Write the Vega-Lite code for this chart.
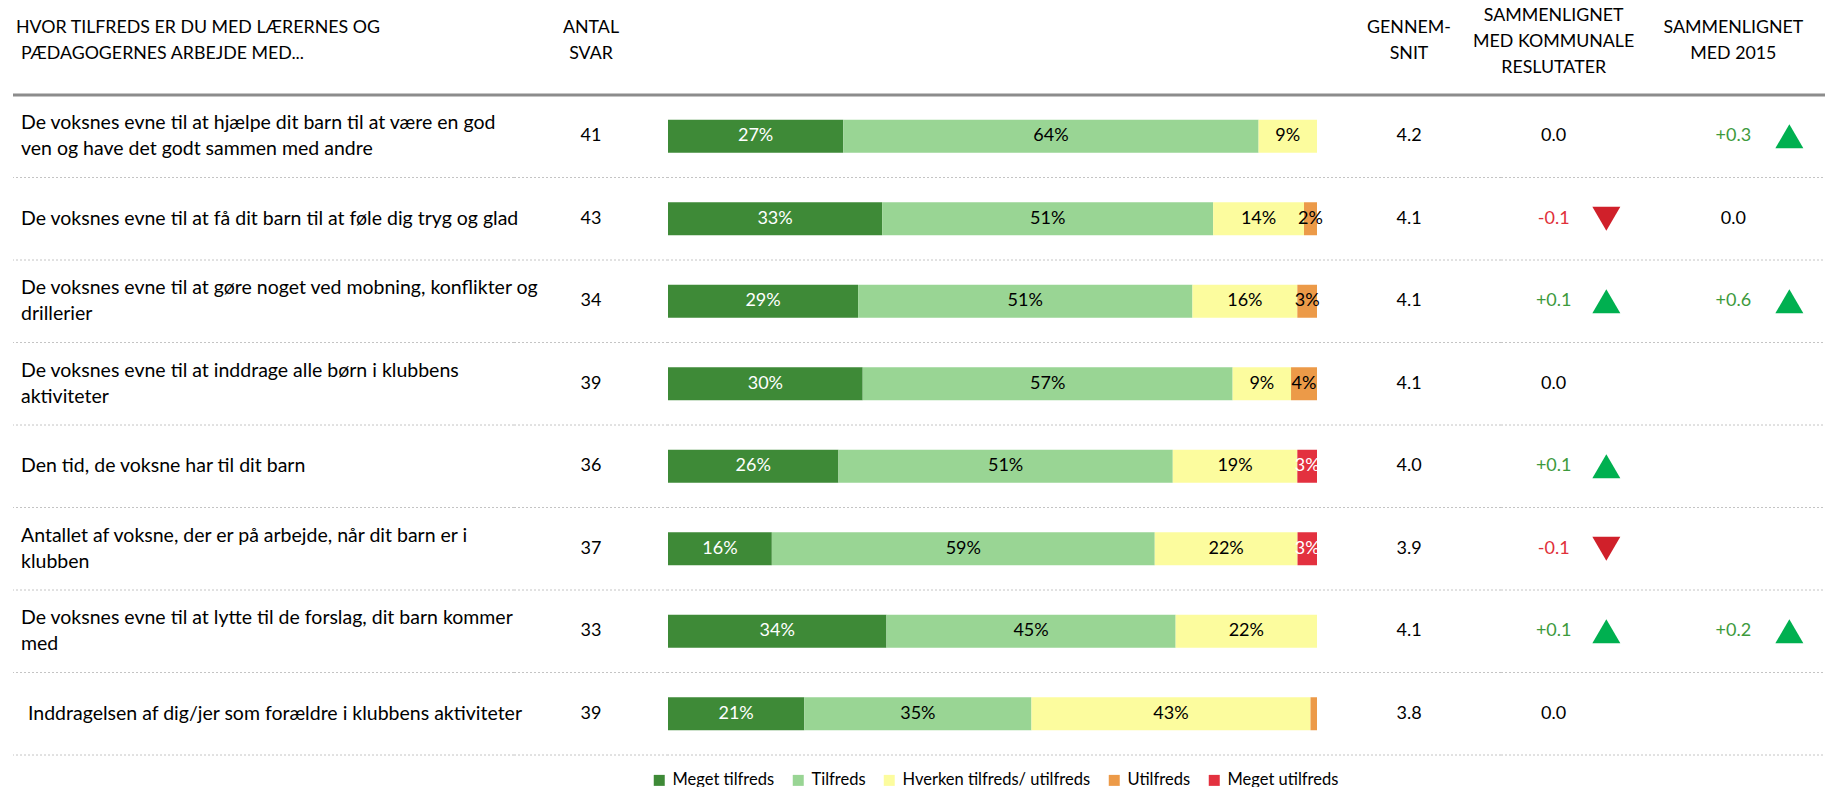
{
  "$schema": "https://vega.github.io/schema/vega-lite/v6.json",
  "padding": {"left": 11, "top": 0, "right": 0, "bottom": 0},
  "background": "white",
  "config": {"view": {"stroke": null}, "concat": {"spacing": 0}, "font": "Lato", "text": {"font": "Lato", "color": "#000000"},
             "locale": {"number": {"decimal": ".", "thousands": ",", "grouping": [3], "currency": ["", ""], "minus": "-"}}},
  "datasets": {
    "rows": [
      {"id": 1, "q": "De voksnes evne til at hjælpe dit barn til at være en god\nven og have det godt sammen med andre", "n": 41, "mean": 4.2, "kom": 0.0, "y15": 0.3},
      {"id": 2, "q": "De voksnes evne til at få dit barn til at føle dig tryg og glad", "n": 43, "mean": 4.1, "kom": -0.1, "y15": 0.0},
      {"id": 3, "q": "De voksnes evne til at gøre noget ved mobning, konflikter og\ndrillerier", "n": 34, "mean": 4.1, "kom": 0.1, "y15": 0.6},
      {"id": 4, "q": "De voksnes evne til at inddrage alle børn i klubbens\naktiviteter", "n": 39, "mean": 4.1, "kom": 0.0, "y15": null},
      {"id": 5, "q": "Den tid, de voksne har til dit barn", "n": 36, "mean": 4.0, "kom": 0.1, "y15": null},
      {"id": 6, "q": "Antallet af voksne, der er på arbejde, når dit barn er i\nklubben", "n": 37, "mean": 3.9, "kom": -0.1, "y15": null},
      {"id": 7, "q": "De voksnes evne til at lytte til de forslag, dit barn kommer\nmed", "n": 33, "mean": 4.1, "kom": 0.1, "y15": 0.2},
      {"id": 8, "q": "Inddragelsen af dig/jer som forældre i klubbens aktiviteter", "n": 39, "mean": 3.8, "kom": 0.0, "y15": null}
    ],
    "bars": [
      {"id": 1, "cat": "Meget tilfreds", "k": 1, "pct": 0.27},
      {"id": 1, "cat": "Tilfreds", "k": 2, "pct": 0.64},
      {"id": 1, "cat": "Hverken tilfreds/ utilfreds", "k": 3, "pct": 0.09},
      {"id": 2, "cat": "Meget tilfreds", "k": 1, "pct": 0.33},
      {"id": 2, "cat": "Tilfreds", "k": 2, "pct": 0.51},
      {"id": 2, "cat": "Hverken tilfreds/ utilfreds", "k": 3, "pct": 0.14},
      {"id": 2, "cat": "Utilfreds", "k": 4, "pct": 0.02},
      {"id": 3, "cat": "Meget tilfreds", "k": 1, "pct": 0.29},
      {"id": 3, "cat": "Tilfreds", "k": 2, "pct": 0.51},
      {"id": 3, "cat": "Hverken tilfreds/ utilfreds", "k": 3, "pct": 0.16},
      {"id": 3, "cat": "Utilfreds", "k": 4, "pct": 0.03},
      {"id": 4, "cat": "Meget tilfreds", "k": 1, "pct": 0.30},
      {"id": 4, "cat": "Tilfreds", "k": 2, "pct": 0.57},
      {"id": 4, "cat": "Hverken tilfreds/ utilfreds", "k": 3, "pct": 0.09},
      {"id": 4, "cat": "Utilfreds", "k": 4, "pct": 0.04},
      {"id": 5, "cat": "Meget tilfreds", "k": 1, "pct": 0.26},
      {"id": 5, "cat": "Tilfreds", "k": 2, "pct": 0.51},
      {"id": 5, "cat": "Hverken tilfreds/ utilfreds", "k": 3, "pct": 0.19},
      {"id": 5, "cat": "Meget utilfreds", "k": 5, "pct": 0.03},
      {"id": 6, "cat": "Meget tilfreds", "k": 1, "pct": 0.16},
      {"id": 6, "cat": "Tilfreds", "k": 2, "pct": 0.59},
      {"id": 6, "cat": "Hverken tilfreds/ utilfreds", "k": 3, "pct": 0.22},
      {"id": 6, "cat": "Meget utilfreds", "k": 5, "pct": 0.03},
      {"id": 7, "cat": "Meget tilfreds", "k": 1, "pct": 0.34},
      {"id": 7, "cat": "Tilfreds", "k": 2, "pct": 0.45},
      {"id": 7, "cat": "Hverken tilfreds/ utilfreds", "k": 3, "pct": 0.22},
      {"id": 8, "cat": "Meget tilfreds", "k": 1, "pct": 0.21},
      {"id": 8, "cat": "Tilfreds", "k": 2, "pct": 0.35},
      {"id": 8, "cat": "Hverken tilfreds/ utilfreds", "k": 3, "pct": 0.43},
      {"id": 8, "cat": "Utilfreds", "k": 4, "pct": 0.01}
    ]
  },
  "spacing": 0,
  "resolve": {"scale": {"x": "independent", "y": "independent"}},
  "vconcat": [
    {
      "spacing": 0,
      "bounds": "flush",
      "resolve": {"scale": {"x": "independent", "y": "independent"}},
      "hconcat": [
        {"width": 501, "height": 93, "data": {"values": [{"t": "HVOR TILFREDS ER DU MED LÆRERNES OG", "l": 1}, {"t": "PÆDAGOGERNES ARBEJDE MED...", "l": 2}]},
         "layer": [
           {"transform": [{"filter": "datum.l == 1"}],
            "mark": {"type": "text", "align": "left", "baseline": "middle", "dx": 3, "dy": -18.5, "fontSize": 17.8},
            "encoding": {"text": {"field": "t", "type": "nominal"}, "x": {"datum": 0, "type": "quantitative", "scale": {"domain": [0, 1]}, "axis": null}}},
           {"transform": [{"filter": "datum.l == 2"}],
            "mark": {"type": "text", "align": "left", "baseline": "middle", "dx": 8, "dy": 7, "fontSize": 17.8},
            "encoding": {"text": {"field": "t", "type": "nominal"}, "x": {"datum": 0, "type": "quantitative", "scale": {"domain": [0, 1]}, "axis": null}}}
         ]},
        {"width": 154, "height": 93, "data": {"values": [{"t": "ANTAL", "l": 1}, {"t": "SVAR", "l": 2}]},
         "layer": [
           {"transform": [{"filter": "datum.l == 1"}], "mark": {"type": "text", "align": "center", "baseline": "middle", "dy": -18.5, "fontSize": 17.8},
            "encoding": {"text": {"field": "t", "type": "nominal"}}},
           {"transform": [{"filter": "datum.l == 2"}], "mark": {"type": "text", "align": "center", "baseline": "middle", "dy": 7, "fontSize": 17.8},
            "encoding": {"text": {"field": "t", "type": "nominal"}}}
         ]},
        {"width": 649, "height": 93, "data": {"values": [{"t": ""}]},
         "mark": {"type": "text"},
         "encoding": {"text": {"field": "t", "type": "nominal"}}},
        {"width": 184, "height": 93, "data": {"values": [{"t": "GENNEM-", "l": 1}, {"t": "SNIT", "l": 2}]},
         "layer": [
           {"transform": [{"filter": "datum.l == 1"}], "mark": {"type": "text", "align": "center", "baseline": "middle", "dy": -18.5, "fontSize": 17.8},
            "encoding": {"text": {"field": "t", "type": "nominal"}}},
           {"transform": [{"filter": "datum.l == 2"}], "mark": {"type": "text", "align": "center", "baseline": "middle", "dy": 7, "fontSize": 17.8},
            "encoding": {"text": {"field": "t", "type": "nominal"}}}
         ]},
        {"width": 158, "height": 93, "data": {"values": [{"t": "SAMMENLIGNET", "l": 1}, {"t": "MED KOMMUNALE", "l": 2}, {"t": "RESLUTATER", "l": 3}]},
         "layer": [
           {"transform": [{"filter": "datum.l == 1"}], "mark": {"type": "text", "align": "center", "baseline": "middle", "dy": -30.2, "fontSize": 17.8},
            "encoding": {"text": {"field": "t", "type": "nominal"},
                         "x": {"datum": "val", "type": "nominal", "scale": {"type": "point", "domain": ["val", "tri"], "padding": 1.1458, "align": 0.5}, "axis": null}}},
           {"transform": [{"filter": "datum.l == 2"}], "mark": {"type": "text", "align": "center", "baseline": "middle", "dy": -4.5, "fontSize": 17.8},
            "encoding": {"text": {"field": "t", "type": "nominal"},
                         "x": {"datum": "val", "type": "nominal", "scale": {"type": "point", "domain": ["val", "tri"], "padding": 1.1458, "align": 0.5}, "axis": null}}},
           {"transform": [{"filter": "datum.l == 3"}], "mark": {"type": "text", "align": "center", "baseline": "middle", "dy": 21, "fontSize": 17.8},
            "encoding": {"text": {"field": "t", "type": "nominal"},
                         "x": {"datum": "val", "type": "nominal", "scale": {"type": "point", "domain": ["val", "tri"], "padding": 1.1458, "align": 0.5}, "axis": null}}}
         ]},
        {"width": 168, "height": 93, "data": {"values": [{"t": "SAMMENLIGNET", "l": 1}, {"t": "MED 2015", "l": 2}]},
         "layer": [
           {"transform": [{"filter": "datum.l == 1"}], "mark": {"type": "text", "align": "center", "baseline": "middle", "dy": -18.5, "fontSize": 17.8},
            "encoding": {"text": {"field": "t", "type": "nominal"},
                         "x": {"datum": "val", "type": "nominal", "scale": {"type": "point", "domain": ["val", "tri"], "padding": 1.2143, "align": 0.6639}, "axis": null}}},
           {"transform": [{"filter": "datum.l == 2"}], "mark": {"type": "text", "align": "center", "baseline": "middle", "dy": 7, "fontSize": 17.8},
            "encoding": {"text": {"field": "t", "type": "nominal"},
                         "x": {"datum": "val", "type": "nominal", "scale": {"type": "point", "domain": ["val", "tri"], "padding": 1.2143, "align": 0.6639}, "axis": null}}}
         ]}
      ]
    },
    {
      "spacing": 0,
      "bounds": "flush",
      "resolve": {"scale": {"x": "independent", "y": "independent"}},
      "hconcat": [
        {"width": 501, "height": 660,
         "layer": [
           {"data": {"name": "rows"}, "mark": {"type": "rule", "color": "#c4c4c4", "strokeDash": [2, 2], "strokeWidth": 1},
            "encoding": {"y": {"field": "id", "type": "ordinal", "bandPosition": 1, "scale": {"type": "band", "domain": [1, 2, 3, 4, 5, 6, 7, 8], "paddingInner": 0, "paddingOuter": 0}, "axis": null}}},
           {"data": {"name": "rows"}, "transform": [{"filter": "datum.id == 1"}], "mark": {"type": "rule", "color": "#8c8c8c", "strokeWidth": 3},
            "encoding": {"y": {"field": "id", "type": "ordinal", "bandPosition": 0, "scale": {"type": "band", "domain": [1, 2, 3, 4, 5, 6, 7, 8], "paddingInner": 0, "paddingOuter": 0}, "axis": null}}},
           {"data": {"name": "rows"}, "transform": [{"filter": "indexof(datum.q, '\\n') < 0 && datum.id != 8"}], "mark": {"type": "text", "align": "left", "baseline": "middle", "dx": 8, "fontSize": 19.5},
            "encoding": {"y": {"field": "id", "type": "ordinal", "scale": {"type": "band", "domain": [1, 2, 3, 4, 5, 6, 7, 8], "paddingInner": 0, "paddingOuter": 0}, "axis": null},
                         "x": {"datum": 0, "type": "quantitative", "scale": {"domain": [0, 1]}, "axis": null},
                         "text": {"field": "q", "type": "nominal"}}},
           {"data": {"name": "rows"}, "transform": [{"filter": "indexof(datum.q, '\\n') >= 0"}], "mark": {"type": "text", "align": "left", "baseline": "middle", "lineBreak": "\n", "lineHeight": 26, "dx": 8, "dy": -13, "fontSize": 19.5},
            "encoding": {"y": {"field": "id", "type": "ordinal", "scale": {"type": "band", "domain": [1, 2, 3, 4, 5, 6, 7, 8], "paddingInner": 0, "paddingOuter": 0}, "axis": null},
                         "x": {"datum": 0, "type": "quantitative", "scale": {"domain": [0, 1]}, "axis": null},
                         "text": {"field": "q", "type": "nominal"}}},
           {"data": {"name": "rows"}, "transform": [{"filter": "datum.id == 8"}], "mark": {"type": "text", "align": "left", "baseline": "middle", "dx": 15, "fontSize": 19.5},
            "encoding": {"y": {"field": "id", "type": "ordinal", "scale": {"type": "band", "domain": [1, 2, 3, 4, 5, 6, 7, 8], "paddingInner": 0, "paddingOuter": 0}, "axis": null},
                         "x": {"datum": 0, "type": "quantitative", "scale": {"domain": [0, 1]}, "axis": null},
                         "text": {"field": "q", "type": "nominal"}}}
         ]},
        {"width": 154, "height": 660,
         "layer": [
           {"data": {"name": "rows"}, "mark": {"type": "rule", "color": "#c4c4c4", "strokeDash": [2, 2], "strokeWidth": 1},
            "encoding": {"y": {"field": "id", "type": "ordinal", "bandPosition": 1, "scale": {"type": "band", "domain": [1, 2, 3, 4, 5, 6, 7, 8], "paddingInner": 0, "paddingOuter": 0}, "axis": null}}},
           {"data": {"name": "rows"}, "transform": [{"filter": "datum.id == 1"}], "mark": {"type": "rule", "color": "#8c8c8c", "strokeWidth": 3},
            "encoding": {"y": {"field": "id", "type": "ordinal", "bandPosition": 0, "scale": {"type": "band", "domain": [1, 2, 3, 4, 5, 6, 7, 8], "paddingInner": 0, "paddingOuter": 0}, "axis": null}}},
           {"data": {"name": "rows"}, "mark": {"type": "text", "align": "center", "baseline": "middle", "fontSize": 18},
            "encoding": {"y": {"field": "id", "type": "ordinal", "scale": {"type": "band", "domain": [1, 2, 3, 4, 5, 6, 7, 8], "paddingInner": 0, "paddingOuter": 0}, "axis": null},
                         "text": {"field": "n", "type": "quantitative", "format": "d"}}}
         ]},
        {"width": 649, "height": 660,
         "layer": [
           {"data": {"name": "rows"}, "mark": {"type": "rule", "color": "#c4c4c4", "strokeDash": [2, 2], "strokeWidth": 1},
            "encoding": {"y": {"field": "id", "type": "ordinal", "bandPosition": 1, "scale": {"type": "band", "domain": [1, 2, 3, 4, 5, 6, 7, 8], "paddingInner": 0, "paddingOuter": 0}, "axis": null}}},
           {"data": {"name": "rows"}, "transform": [{"filter": "datum.id == 1"}], "mark": {"type": "rule", "color": "#8c8c8c", "strokeWidth": 3},
            "encoding": {"y": {"field": "id", "type": "ordinal", "bandPosition": 0, "scale": {"type": "band", "domain": [1, 2, 3, 4, 5, 6, 7, 8], "paddingInner": 0, "paddingOuter": 0}, "axis": null}}},
           {"data": {"name": "bars"}, "mark": {"type": "bar", "height": {"band": 0.4}},
            "encoding": {"y": {"field": "id", "type": "ordinal", "scale": {"type": "band", "domain": [1, 2, 3, 4, 5, 6, 7, 8], "paddingInner": 0, "paddingOuter": 0}, "axis": null},
                         "x": {"field": "pct", "type": "quantitative", "stack": "normalize", "axis": null},
                         "order": {"field": "k", "type": "quantitative"},
                         "color": {"field": "cat", "type": "nominal",
                                   "scale": {"domain": ["Meget tilfreds", "Tilfreds", "Hverken tilfreds/ utilfreds", "Utilfreds", "Meget utilfreds"],
                                             "range": ["#3e8a37", "#99d594", "#fcfc9e", "#ec9a48", "#e3313f"]},
                                   "legend": {"title": null, "orient": "none", "legendX": 638, "legendY": 772, "direction": "horizontal", "columns": 5,
                                              "symbolType": "square", "symbolSize": 121, "symbolStrokeWidth": 0, "labelFont": "Lato", "labelFontSize": 16.5,
                                              "labelColor": "#000000", "labelOffset": 5, "columnPadding": 15, "padding": 0, "labelLimit": 400}}}},
           {"data": {"name": "bars"}, "mark": {"type": "text", "align": "center", "baseline": "middle", "fontSize": 18},
            "encoding": {"y": {"field": "id", "type": "ordinal", "scale": {"type": "band", "domain": [1, 2, 3, 4, 5, 6, 7, 8], "paddingInner": 0, "paddingOuter": 0}, "axis": null},
                         "x": {"field": "pct", "type": "quantitative", "stack": "normalize", "bandPosition": 0.5, "axis": null},
                         "order": {"field": "k", "type": "quantitative"},
                         "detail": {"field": "cat", "type": "nominal"},
                         "text": {"field": "pct", "type": "quantitative", "format": ".0%", "condition": {"test": "datum.pct < 0.02", "value": ""}},
                         "color": {"condition": {"test": "datum.k == 1 || datum.k == 5", "value": "#ffffff"}, "value": "#000000"}}}
         ]},
        {"width": 184, "height": 660,
         "layer": [
           {"data": {"name": "rows"}, "mark": {"type": "rule", "color": "#c4c4c4", "strokeDash": [2, 2], "strokeWidth": 1},
            "encoding": {"y": {"field": "id", "type": "ordinal", "bandPosition": 1, "scale": {"type": "band", "domain": [1, 2, 3, 4, 5, 6, 7, 8], "paddingInner": 0, "paddingOuter": 0}, "axis": null}}},
           {"data": {"name": "rows"}, "transform": [{"filter": "datum.id == 1"}], "mark": {"type": "rule", "color": "#8c8c8c", "strokeWidth": 3},
            "encoding": {"y": {"field": "id", "type": "ordinal", "bandPosition": 0, "scale": {"type": "band", "domain": [1, 2, 3, 4, 5, 6, 7, 8], "paddingInner": 0, "paddingOuter": 0}, "axis": null}}},
           {"data": {"name": "rows"}, "mark": {"type": "text", "align": "center", "baseline": "middle", "fontSize": 18},
            "encoding": {"y": {"field": "id", "type": "ordinal", "scale": {"type": "band", "domain": [1, 2, 3, 4, 5, 6, 7, 8], "paddingInner": 0, "paddingOuter": 0}, "axis": null},
                         "text": {"field": "mean", "type": "quantitative", "format": ".1f"}}}
         ]},
        {"width": 158, "height": 660,
         "layer": [
           {"data": {"name": "rows"}, "mark": {"type": "rule", "color": "#c4c4c4", "strokeDash": [2, 2], "strokeWidth": 1},
            "encoding": {"y": {"field": "id", "type": "ordinal", "bandPosition": 1, "scale": {"type": "band", "domain": [1, 2, 3, 4, 5, 6, 7, 8], "paddingInner": 0, "paddingOuter": 0}, "axis": null}}},
           {"data": {"name": "rows"}, "transform": [{"filter": "datum.id == 1"}], "mark": {"type": "rule", "color": "#8c8c8c", "strokeWidth": 3},
            "encoding": {"y": {"field": "id", "type": "ordinal", "bandPosition": 0, "scale": {"type": "band", "domain": [1, 2, 3, 4, 5, 6, 7, 8], "paddingInner": 0, "paddingOuter": 0}, "axis": null}}},
           {"data": {"name": "rows"}, "transform": [{"filter": "datum.kom > 0"}], "mark": {"type": "text", "align": "center", "baseline": "middle", "fontSize": 18, "color": "#3d9a3d"},
            "encoding": {"y": {"field": "id", "type": "ordinal", "scale": {"type": "band", "domain": [1, 2, 3, 4, 5, 6, 7, 8], "paddingInner": 0, "paddingOuter": 0}, "axis": null},
                         "x": {"datum": "val", "type": "nominal", "scale": {"type": "point", "domain": ["val", "tri"], "padding": 1.1458, "align": 0.5}, "axis": null},
                         "text": {"field": "kom", "type": "quantitative", "format": "+.1f"}}},
           {"data": {"name": "rows"}, "transform": [{"filter": "datum.kom <= 0"}], "mark": {"type": "text", "align": "center", "baseline": "middle", "fontSize": 18},
            "encoding": {"y": {"field": "id", "type": "ordinal", "scale": {"type": "band", "domain": [1, 2, 3, 4, 5, 6, 7, 8], "paddingInner": 0, "paddingOuter": 0}, "axis": null},
                         "x": {"datum": "val", "type": "nominal", "scale": {"type": "point", "domain": ["val", "tri"], "padding": 1.1458, "align": 0.5}, "axis": null},
                         "text": {"field": "kom", "type": "quantitative", "format": ".1f"},
                         "color": {"condition": {"test": "datum.kom < 0", "value": "#e0303a"}, "value": "#000000"}}},
           {"data": {"name": "rows"}, "transform": [{"filter": "datum.kom > 0"}], "mark": {"type": "point", "shape": "triangle-up", "filled": true, "size": 784, "opacity": 1, "color": "#00b050"},
            "encoding": {"y": {"field": "id", "type": "ordinal", "scale": {"type": "band", "domain": [1, 2, 3, 4, 5, 6, 7, 8], "paddingInner": 0, "paddingOuter": 0}, "axis": null},
                         "x": {"datum": "tri", "type": "nominal", "scale": {"type": "point", "domain": ["val", "tri"], "padding": 1.1458, "align": 0.5}, "axis": null}}},
           {"data": {"name": "rows"}, "transform": [{"filter": "datum.kom < 0"}], "mark": {"type": "point", "shape": "triangle-down", "filled": true, "size": 784, "opacity": 1, "color": "#d0202a"},
            "encoding": {"y": {"field": "id", "type": "ordinal", "scale": {"type": "band", "domain": [1, 2, 3, 4, 5, 6, 7, 8], "paddingInner": 0, "paddingOuter": 0}, "axis": null},
                         "x": {"datum": "tri", "type": "nominal", "scale": {"type": "point", "domain": ["val", "tri"], "padding": 1.1458, "align": 0.5}, "axis": null}}}
         ]},
        {"width": 168, "height": 660,
         "layer": [
           {"data": {"name": "rows"}, "mark": {"type": "rule", "color": "#c4c4c4", "strokeDash": [2, 2], "strokeWidth": 1},
            "encoding": {"y": {"field": "id", "type": "ordinal", "bandPosition": 1, "scale": {"type": "band", "domain": [1, 2, 3, 4, 5, 6, 7, 8], "paddingInner": 0, "paddingOuter": 0}, "axis": null}}},
           {"data": {"name": "rows"}, "transform": [{"filter": "datum.id == 1"}], "mark": {"type": "rule", "color": "#8c8c8c", "strokeWidth": 3},
            "encoding": {"y": {"field": "id", "type": "ordinal", "bandPosition": 0, "scale": {"type": "band", "domain": [1, 2, 3, 4, 5, 6, 7, 8], "paddingInner": 0, "paddingOuter": 0}, "axis": null}}},
           {"data": {"name": "rows"}, "transform": [{"filter": "isValid(datum.y15) && datum.y15 > 0"}], "mark": {"type": "text", "align": "center", "baseline": "middle", "fontSize": 18, "color": "#3d9a3d"},
            "encoding": {"y": {"field": "id", "type": "ordinal", "scale": {"type": "band", "domain": [1, 2, 3, 4, 5, 6, 7, 8], "paddingInner": 0, "paddingOuter": 0}, "axis": null},
                         "x": {"datum": "val", "type": "nominal", "scale": {"type": "point", "domain": ["val", "tri"], "padding": 1.2143, "align": 0.6639}, "axis": null},
                         "text": {"field": "y15", "type": "quantitative", "format": "+.1f"}}},
           {"data": {"name": "rows"}, "transform": [{"filter": "isValid(datum.y15) && datum.y15 <= 0"}], "mark": {"type": "text", "align": "center", "baseline": "middle", "fontSize": 18},
            "encoding": {"y": {"field": "id", "type": "ordinal", "scale": {"type": "band", "domain": [1, 2, 3, 4, 5, 6, 7, 8], "paddingInner": 0, "paddingOuter": 0}, "axis": null},
                         "x": {"datum": "val", "type": "nominal", "scale": {"type": "point", "domain": ["val", "tri"], "padding": 1.2143, "align": 0.6639}, "axis": null},
                         "text": {"field": "y15", "type": "quantitative", "format": ".1f"},
                         "color": {"condition": {"test": "datum.y15 < 0", "value": "#e0303a"}, "value": "#000000"}}},
           {"data": {"name": "rows"}, "transform": [{"filter": "isValid(datum.y15) && datum.y15 > 0"}], "mark": {"type": "point", "shape": "triangle-up", "filled": true, "size": 784, "opacity": 1, "color": "#00b050"},
            "encoding": {"y": {"field": "id", "type": "ordinal", "scale": {"type": "band", "domain": [1, 2, 3, 4, 5, 6, 7, 8], "paddingInner": 0, "paddingOuter": 0}, "axis": null},
                         "x": {"datum": "tri", "type": "nominal", "scale": {"type": "point", "domain": ["val", "tri"], "padding": 1.2143, "align": 0.6639}, "axis": null}}}
         ]}
      ]
    }
  ]
}
